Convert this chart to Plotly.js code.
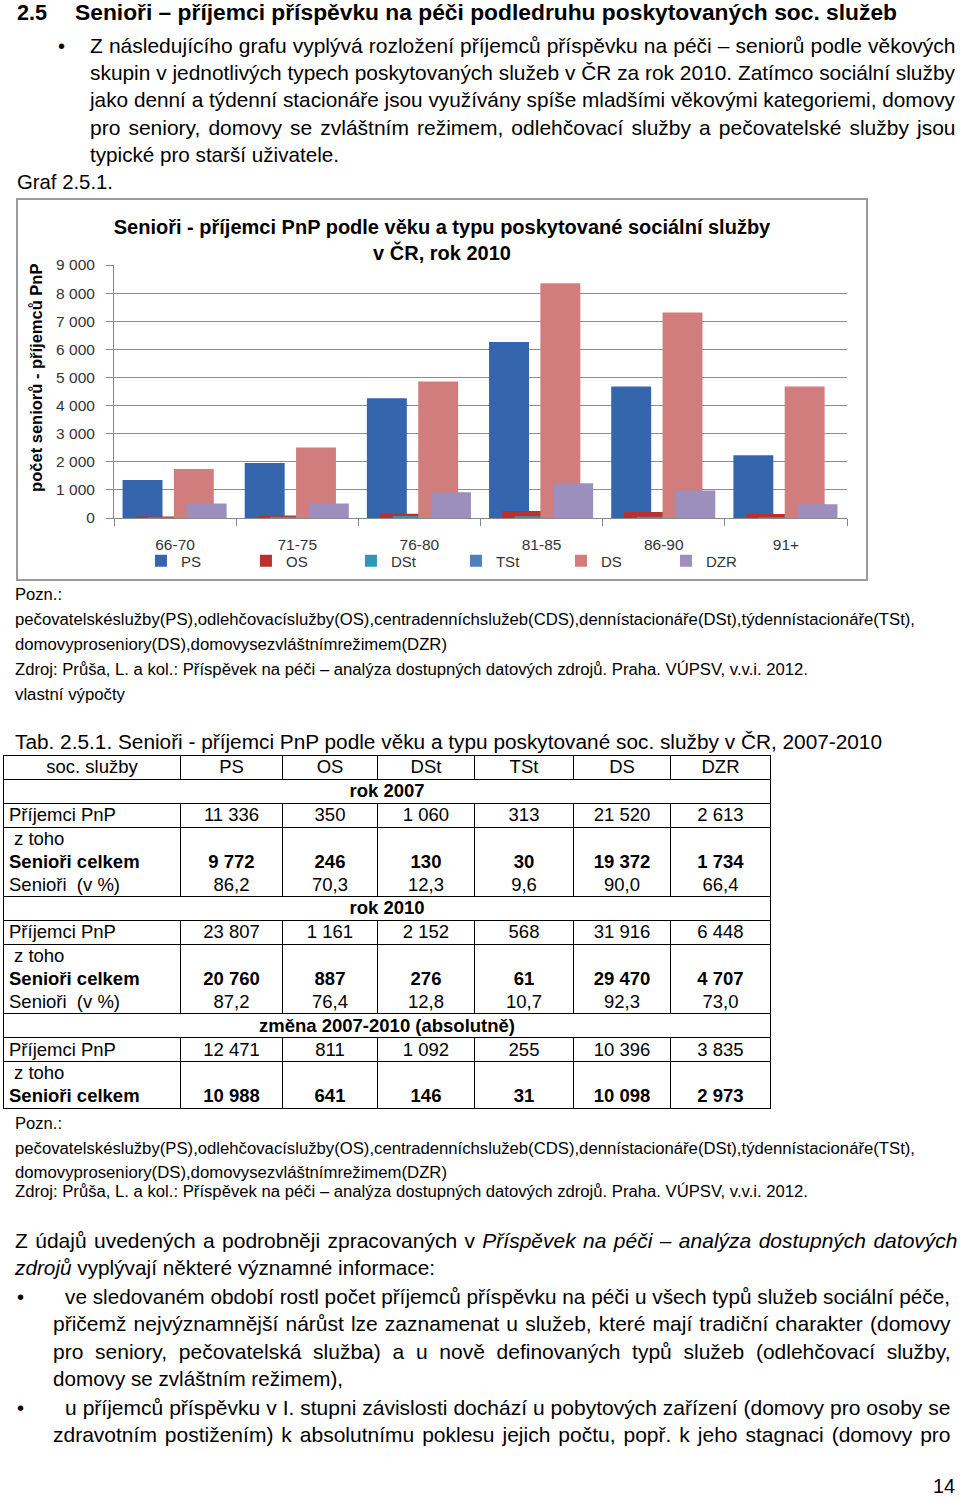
<!DOCTYPE html>
<html lang="cs">
<head>
<meta charset="utf-8">
<title>Senioři – příjemci PnP</title>
<script src="https://cdn.plot.ly/plotly-3.0.1.min.js"></script>
<style>
html,body{margin:0;padding:0;background:#fff;}
body{width:960px;height:1498px;position:relative;overflow:hidden;font-family:"Liberation Sans",Arial,Helvetica,sans-serif;color:#000;}
.ln{position:absolute;white-space:nowrap;transform-origin:0 50%;line-height:26px;height:26px;font-size:21px;}
.b{font-weight:bold;}
#frame{position:absolute;left:16px;top:198px;width:848px;height:379px;border:2px solid #9a9a9a;}
#chart{width:848px;height:379px;}
#tab{position:absolute;left:3px;top:755px;border-collapse:collapse;table-layout:fixed;width:767px;font-size:18.5px;}
#tab td{border:1px solid #000;padding:0;height:22.85px;line-height:20px;text-align:center;vertical-align:middle;white-space:nowrap;overflow:hidden;}
#tab td.lab{text-align:left;padding-left:5px;}
#tab td.ind{padding-left:10px;}
#tab tr.nb td{border-bottom:none;}
#tab tr.nt td{border-top:none;}
#tab tr.bold td{font-weight:bold;}
</style>
</head>
<body>

<div class="ln b" data-x="17" data-y="13" data-fs="22" data-w="30">2.5</div>
<div class="ln b" data-x="75" data-y="13" data-fs="22" data-w="822">Senioři – příjemci příspěvku na péči podledruhu poskytovaných soc. služeb</div>

<div class="ln" data-x="58" data-y="46" data-fs="20">•</div>
<div class="ln" data-x="90" data-y="46" data-w="865" data-j="1">Z následujícího grafu vyplývá rozložení příjemců příspěvku na péči – seniorů podle věkových</div>
<div class="ln" data-x="90" data-y="73" data-w="865" data-j="1">skupin v jednotlivých typech poskytovaných služeb v ČR za rok 2010. Zatímco sociální služby</div>
<div class="ln" data-x="90" data-y="100" data-w="865" data-j="1">jako denní a týdenní stacionáře jsou využívány spíše mladšími věkovými kategoriemi, domovy</div>
<div class="ln" data-x="90" data-y="128" data-w="865" data-j="1">pro seniory, domovy se zvláštním režimem, odlehčovací služby a pečovatelské služby jsou</div>
<div class="ln" data-x="90" data-y="155" data-w="249">typické pro starší uživatele.</div>
<div class="ln" data-x="17" data-y="182" data-w="96">Graf 2.5.1.</div>

<div id="frame"><div id="chart"></div></div>

<div class="ln" data-x="15" data-y="595" data-fs="16" data-w="47">Pozn.:</div>
<div class="ln" data-x="15" data-y="620" data-fs="16" data-w="900">pečovatelskéslužby(PS),odlehčovacíslužby(OS),centradenníchslužeb(CDS),dennístacionáře(DSt),týdennístacionáře(TSt),</div>
<div class="ln" data-x="15" data-y="645" data-fs="16" data-w="432">domovyproseniory(DS),domovysezvláštnímrežimem(DZR)</div>
<div class="ln" data-x="15" data-y="670" data-fs="16" data-w="793">Zdroj: Průša, L. a kol.: Příspěvek na péči – analýza dostupných datových zdrojů. Praha. VÚPSV, v.v.i. 2012.</div>
<div class="ln" data-x="15" data-y="695" data-fs="16" data-w="110">vlastní výpočty</div>

<div class="ln" data-x="15" data-y="742" data-fs="20" data-w="867">Tab. 2.5.1. Senioři - příjemci PnP podle věku a typu poskytované soc. služby v ČR, 2007-2010</div>

<table id="tab">
<colgroup><col style="width:177px"><col style="width:102px"><col style="width:95px"><col style="width:97px"><col style="width:99px"><col style="width:97px"><col style="width:100px"></colgroup>
<tbody id="tbody"></tbody>
</table>

<div class="ln" data-x="15" data-y="1124" data-fs="16" data-w="47">Pozn.:</div>
<div class="ln" data-x="15" data-y="1149" data-fs="16" data-w="900">pečovatelskéslužby(PS),odlehčovacíslužby(OS),centradenníchslužeb(CDS),dennístacionáře(DSt),týdennístacionáře(TSt),</div>
<div class="ln" data-x="15" data-y="1173" data-fs="16" data-w="432">domovyproseniory(DS),domovysezvláštnímrežimem(DZR)</div>
<div class="ln" data-x="15" data-y="1192" data-fs="16" data-w="793">Zdroj: Průša, L. a kol.: Příspěvek na péči – analýza dostupných datových zdrojů. Praha. VÚPSV, v.v.i. 2012.</div>

<div class="ln" data-x="15" data-y="1241" data-w="942" data-j="1">Z údajů uvedených a podrobněji zpracovaných v <i>Příspěvek na péči – analýza dostupných datových</i></div>
<div class="ln" data-x="15" data-y="1268" data-w="420"><i>zdrojů</i> vyplývají některé významné informace:</div>

<div class="ln" data-x="17" data-y="1297" data-fs="20">•</div>
<div class="ln" data-x="65" data-y="1297" data-w="885" data-j="1">ve sledovaném období rostl počet příjemců příspěvku na péči u všech typů služeb sociální péče,</div>
<div class="ln" data-x="53" data-y="1324" data-w="897" data-j="1">přičemž nejvýznamnější nárůst lze zaznamenat u služeb, které mají tradiční charakter (domovy</div>
<div class="ln" data-x="53" data-y="1352" data-w="897" data-j="1">pro seniory, pečovatelská služba) a u nově definovaných typů služeb (odlehčovací služby,</div>
<div class="ln" data-x="53" data-y="1379" data-w="290">domovy se zvláštním režimem),</div>
<div class="ln" data-x="17" data-y="1408" data-fs="20">•</div>
<div class="ln" data-x="65" data-y="1408" data-w="885" data-j="1">u příjemců příspěvku v I. stupni závislosti dochází u pobytových zařízení (domovy pro osoby se</div>
<div class="ln" data-x="53" data-y="1435" data-w="897" data-j="1">zdravotním postižením) k absolutnímu poklesu jejich počtu, popř. k jeho stagnaci (domovy pro</div>

<div class="ln" data-x="933" data-y="1486" data-w="22">14</div>

<script>
// ---------- Chart data (Graf 2.5.1, rok 2010) ----------
const ageGroups = ['66-70', '71-75', '76-80', '81-85', '86-90', '91+'];
const seriesNames = ['PS', 'OS', 'DSt', 'TSt', 'DS', 'DZR'];
const PS  = [1350, 1960, 4260, 6260, 4680, 2230];
const OS  = [50, 90, 150, 250, 210, 140];
const DSt = [25, 45, 75, 60, 45, 25];
const TSt = [5, 10, 15, 15, 10, 6];
const DS  = [1740, 2510, 4860, 8350, 7310, 4680];
const DZR = [520, 520, 920, 1240, 980, 490];
const yTickVals = [0, 1000, 2000, 3000, 4000, 5000, 6000, 7000, 8000, 9000];

// ---------- Table data (Tab. 2.5.1) ----------
const tabCols = ['PS', 'OS', 'DSt', 'TSt', 'DS', 'DZR'];
const prij2007 = ['11 336', '350', '1 060', '313', '21 520', '2 613'];
const sen2007 = ['9 772', '246', '130', '30', '19 372', '1 734'];
const pct2007 = ['86,2', '70,3', '12,3', '9,6', '90,0', '66,4'];
const prij2010 = ['23 807', '1 161', '2 152', '568', '31 916', '6 448'];
const sen2010 = ['20 760', '887', '276', '61', '29 470', '4 707'];
const pct2010 = ['87,2', '76,4', '12,8', '10,7', '92,3', '73,0'];
const prijChange = ['12 471', '811', '1 092', '255', '10 396', '3 835'];
const senChange = ['10 988', '641', '146', '31', '10 098', '2 973'];

// ---------- Text line fitting ----------
function fitLines() {
  document.querySelectorAll('.ln').forEach(function (el) {
    const d = el.dataset;
    el.style.left = d.x + 'px';
    el.style.top = (d.y - 13) + 'px';
    if (d.fs) el.style.fontSize = d.fs + 'px';
    if (!d.w) return;
    const T = +d.w;
    const w = el.getBoundingClientRect().width;
    if (d.j && w < T) {
      el.style.whiteSpace = 'normal';
      el.style.width = (T + 0.5) + 'px';
      el.style.textAlign = 'justify';
      el.style.textAlignLast = 'justify';
    } else {
      el.style.transform = 'scaleX(' + (T / w) + ')';
    }
  });
}
fitLines();

// ---------- Table ----------
(function buildTable() {
  const tb = document.getElementById('tbody');
  function row(cls, cells, labCls) {
    const tr = document.createElement('tr');
    if (cls) tr.className = cls;
    cells.forEach(function (c, i) {
      const td = document.createElement('td');
      td.textContent = c;
      if (i === 0 && labCls) td.className = labCls;
      tr.appendChild(td);
    });
    tb.appendChild(tr);
  }
  function span(text) {
    const tr = document.createElement('tr');
    tr.className = 'bold';
    const td = document.createElement('td');
    td.colSpan = 7;
    td.textContent = text;
    tr.appendChild(td);
    tb.appendChild(tr);
  }
  const blank = ['', '', '', '', '', ''];
  row('', ['soc. služby'].concat(tabCols), '');
  span('rok 2007');
  row('', ['Příjemci PnP'].concat(prij2007), 'lab');
  row('nb', ['z toho'].concat(blank), 'lab ind');
  row('nb nt bold', ['Senioři celkem'].concat(sen2007), 'lab');
  row('nt', ['Senioři  (v %)'].concat(pct2007), 'lab');
  span('rok 2010');
  row('', ['Příjemci PnP'].concat(prij2010), 'lab');
  row('nb', ['z toho'].concat(blank), 'lab ind');
  row('nb nt bold', ['Senioři celkem'].concat(sen2010), 'lab');
  row('nt', ['Senioři  (v %)'].concat(pct2010), 'lab');
  span('změna 2007-2010 (absolutně)');
  row('', ['Příjemci PnP'].concat(prijChange), 'lab');
  row('nb', ['z toho'].concat(blank), 'lab ind');
  row('nt bold', ['Senioři celkem'].concat(senChange), 'lab');
  document.querySelectorAll('#tab td').forEach(function (td) {
    td.style.whiteSpace = 'pre';
  });
})();

// ---------- Chart ----------
const seriesValues = [PS, OS, DSt, TSt, DS, DZR];
const seriesStyle = [
  { color: '#3566ad', offset: -0.43 },
  { color: '#bb302c', offset: -0.325 },
  { color: '#2e98b4', offset: -0.22 },
  { color: '#4f7fbf', offset: -0.115 },
  { color: '#d27d7d', offset: -0.01 },
  { color: '#9c8ebd', offset: 0.095 }
];
const traces = seriesNames.map(function (name, i) {
  return {
    type: 'bar',
    name: name,
    x: ageGroups,
    y: seriesValues[i],
    width: 0.327,
    offset: seriesStyle[i].offset,
    marker: { color: seriesStyle[i].color, line: { width: 0 } },
    hoverinfo: 'name+y'
  };
});

const layout = {
  width: 848,
  height: 379,
  margin: { l: 96, r: 19, t: 65, b: 61 },
  paper_bgcolor: '#ffffff',
  plot_bgcolor: '#ffffff',
  barmode: 'overlay',
  separators: ', ',
  font: { family: '"Liberation Sans", Arial, sans-serif', color: '#333' },
  title: {
    text: 'Senioři - příjemci PnP podle věku a typu poskytované sociální služby<br>v ČR, rok 2010',
    font: { size: 20, color: '#000', weight: 'bold' },
    x: 0.5, xref: 'container', xanchor: 'center',
    y: 0.91, yref: 'container', yanchor: 'top'
  },
  xaxis: {
    type: 'category',
    range: [-0.5, 5.5],
    automargin: false,
    tickson: 'boundaries',
    ticks: 'outside', ticklen: 7, tickcolor: '#888',
    showline: true, linecolor: '#888', linewidth: 1,
    showgrid: false, zeroline: false,
    tickfont: { size: 15.5, color: '#333' },
    ticklabelstandoff: 12,
    fixedrange: true
  },
  yaxis: {
    range: [0, 9000],
    automargin: false,
    tickvals: yTickVals,
    tickformat: ',d',
    showgrid: true, gridcolor: '#8c8c8c', gridwidth: 1,
    showline: true, linecolor: '#888', linewidth: 1,
    ticks: 'outside', ticklen: 7, tickcolor: '#888',
    zeroline: false,
    tickfont: { size: 15.5, color: '#333' },
    ticklabelstandoff: 8,
    title: { text: '\u200b\u00a0\u00a0\u00a0\u00a0\u00a0\u00a0počet seniorů - příjemců PnP', font: { size: 16.5, color: '#000', weight: 'bold' }, standoff: 9 },
    fixedrange: true
  },
  showlegend: true,
  legend: {
    orientation: 'h',
    xref: 'container', yref: 'container',
    x: 0.145, xanchor: 'left',
    y: 0.0475, yanchor: 'middle',
    font: { size: 15, color: '#333' },
    entrywidth: 60, entrywidthmode: 'pixels',
    bgcolor: 'rgba(0,0,0,0)',
    traceorder: 'normal'
  }
};

Plotly.newPlot('chart', traces, layout, { displayModeBar: false, staticPlot: true });
</script>
</body>
</html>
